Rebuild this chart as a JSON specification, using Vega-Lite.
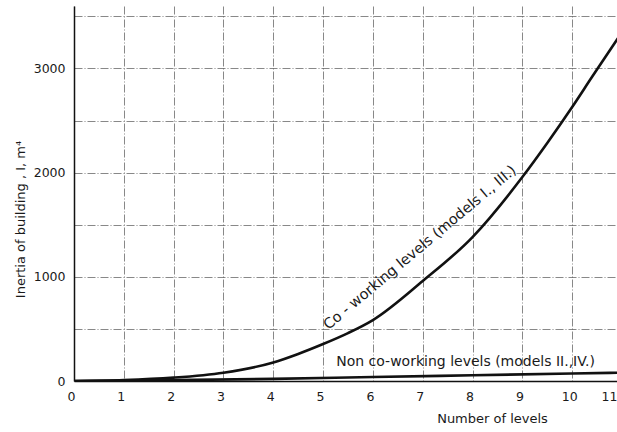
{
  "$schema": "https://vega.github.io/schema/vega-lite/v6.json",
  "autosize": {"type": "none"},
  "padding": {"left": 74, "top": 6, "right": 0, "bottom": 51},
  "width": 548,
  "height": 375,
  "background": "white",
  "config": {
    "font": "DejaVu Sans",
    "view": {"stroke": null},
    "axis": {
      "domainColor": "#111",
      "domainWidth": 1.5,
      "gridColor": "#444",
      "gridDash": [8, 2, 1, 2],
      "gridWidth": 0.8,
      "gridOpacity": 0.8,
      "labelColor": "#1a1a1a",
      "labelFont": "DejaVu Sans",
      "labelFontSize": 12.5,
      "titleFont": "DejaVu Sans",
      "titleFontSize": 13,
      "titleFontWeight": "normal",
      "titleColor": "#1a1a1a",
      "ticks": false
    }
  },
  "data": {
    "values": [
      {"levels": 0, "inertia": 0, "series": "co"},
      {"levels": 1, "inertia": 8, "series": "co"},
      {"levels": 2, "inertia": 32, "series": "co"},
      {"levels": 3, "inertia": 80, "series": "co"},
      {"levels": 4, "inertia": 178, "series": "co"},
      {"levels": 4.5, "inertia": 260, "series": "co"},
      {"levels": 5, "inertia": 355, "series": "co"},
      {"levels": 5.5, "inertia": 460, "series": "co"},
      {"levels": 6, "inertia": 585, "series": "co"},
      {"levels": 7, "inertia": 960, "series": "co"},
      {"levels": 8, "inertia": 1382, "series": "co"},
      {"levels": 9, "inertia": 1958, "series": "co"},
      {"levels": 9.5, "inertia": 2285, "series": "co"},
      {"levels": 10, "inertia": 2630, "series": "co"},
      {"levels": 10.4, "inertia": 2920, "series": "co"},
      {"levels": 11, "inertia": 3350, "series": "co"},
      {"levels": 0, "inertia": 0, "series": "non"},
      {"levels": 2, "inertia": 8, "series": "non"},
      {"levels": 4, "inertia": 20, "series": "non"},
      {"levels": 6, "inertia": 38, "series": "non"},
      {"levels": 8, "inertia": 55, "series": "non"},
      {"levels": 10, "inertia": 72, "series": "non"},
      {"levels": 11, "inertia": 80, "series": "non"}
    ]
  },
  "layer": [
    {
      "mark": {"type": "line", "interpolate": "monotone", "color": "#111", "strokeWidth": 2.6, "clip": true},
      "encoding": {
        "x": {
          "field": "levels", "type": "quantitative",
          "scale": {"domain": [0, 11], "nice": false},
          "axis": {
            "values": [0, 1, 2, 3, 4, 5, 6, 7, 8, 9, 10, 11],
            "title": "Number  of  levels",
            "titleX": 418, "titleY": 31, "titleAnchor": "middle", "titleBaseline": "top",
            "labelPadding": 9,
            "labelAlign": {"condition": {"test": "datum.value == 11", "value": "right"}, "value": "center"},
            "labelOffset": {"condition": {"test": "datum.value == 11", "value": -5}, "value": -3},
            "labelFlush": false
          }
        },
        "y": {
          "field": "inertia", "type": "quantitative",
          "scale": {"domain": [0, 3600], "nice": false},
          "axis": {
            "values": [0, 500, 1000, 1500, 2000, 2500, 3000, 3500],
            "labelExpr": "datum.value % 1000 == 0 ? datum.label : ''",
            "format": "d",
            "labelPadding": 9,
            "title": "Inertia  of  building ,  I,  m⁴",
            "titleX": -47, "titleY": 213, "titleAnchor": "middle",
            "labelFlush": false
          }
        },
        "detail": {"field": "series"}
      }
    },
    {
      "data": {"values": [{"levels": 6.95, "inertia": 1277, "label": "Co - working  levels  (models  I.,  III.)"}]},
      "mark": {"type": "text", "angle": -40, "align": "center", "baseline": "middle", "font": "DejaVu Sans", "fontSize": 14.5, "color": "#1a1a1a"},
      "encoding": {
        "x": {"field": "levels", "type": "quantitative"},
        "y": {"field": "inertia", "type": "quantitative"},
        "text": {"field": "label"}
      }
    },
    {
      "data": {"values": [{"levels": 7.86, "inertia": 185, "label": "Non  co-working  levels  (models  II.,IV.)"}]},
      "mark": {"type": "text", "align": "center", "baseline": "middle", "font": "DejaVu Sans", "fontSize": 14, "color": "#1a1a1a"},
      "encoding": {
        "x": {"field": "levels", "type": "quantitative"},
        "y": {"field": "inertia", "type": "quantitative"},
        "text": {"field": "label"}
      }
    }
  ]
}
